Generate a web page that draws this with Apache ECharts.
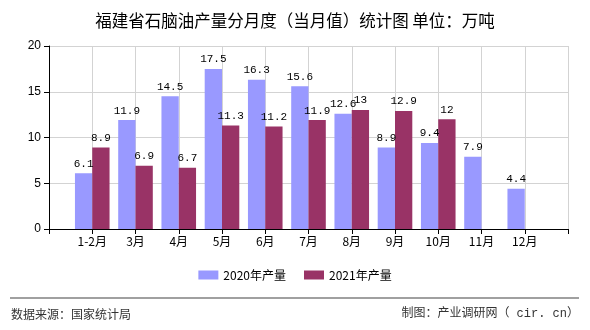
<!DOCTYPE html>
<html>
<head>
<meta charset="utf-8">
<script src="https://cdn.jsdelivr.net/npm/echarts@6/dist/echarts.min.js"></script>
<style>
html,body{margin:0;padding:0;background:#fff;}
#chart{width:590px;height:330px;}
</style>
</head>
<body>
<div id="chart"></div>
<script>
// 月份类别
const months = ['1-2月','3月','4月','5月','6月','7月','8月','9月','10月','11月','12月'];
// 2020年各月产量（万吨）
const output2020 = [6.1, 11.9, 14.5, 17.5, 16.3, 15.6, 12.6, 8.9, 9.4, 7.9, 4.4];
// 2021年各月产量（万吨）
const output2021 = [8.9, 6.9, 6.7, 11.3, 11.2, 11.9, 13, 12.9, 12, null, null];
const seriesNames = ['2020年产量', '2021年产量'];
const yTicks = [0, 5, 10, 15, 20];

// 两端各留一个空位，使柱子落在刻度线上
const axisCats = [''].concat(months, ['']);
const pad = arr => [null].concat(arr, [null]);

const labelFont = {
  show: true, position: 'top', distance: 4, color: '#000',
  fontFamily: 'Liberation Mono, monospace', fontSize: 11
};

const chart = echarts.init(document.getElementById('chart'));
chart.setOption({
  animation: false,
  title: {
    text: '福建省石脑油产量分月度（当月值）统计图 单位：万吨',
    left: 'center', top: 7,
    textStyle: { fontSize: 16.5, fontWeight: 'normal', color: '#000', fontFamily: 'Noto Sans CJK SC' }
  },
  grid: { left: 49, right: 22, top: 46, bottom: 101 },
  legend: {
    bottom: 44, left: 'center', itemWidth: 20, itemHeight: 9, itemGap: 18,
    icon: 'rect',
    textStyle: { fontSize: 12, color: '#000', fontFamily: 'Noto Sans CJK SC' },
    data: seriesNames
  },
  xAxis: {
    type: 'category', data: axisCats, boundaryGap: false,
    axisLine: { lineStyle: { color: '#000', width: 1 } },
    axisTick: { show: true, interval: 0, length: 5, lineStyle: { color: '#000' } },
    axisLabel: { interval: 0, color: '#000', fontSize: 12, margin: 6, fontFamily: 'Noto Sans CJK SC' },
    splitLine: { show: true, interval: 0, lineStyle: { color: '#d3d3d3' } }
  },
  yAxis: {
    type: 'value', min: yTicks[0], max: yTicks[yTicks.length - 1], interval: 5,
    axisLine: { show: true, lineStyle: { color: '#000', width: 1 } },
    axisTick: { show: true, length: 5, lineStyle: { color: '#000' } },
    axisLabel: { color: '#000', fontSize: 12, margin: 8, fontFamily: 'Liberation Sans' },
    splitLine: { lineStyle: { color: '#d3d3d3' } }
  },
  series: [
    {
      name: seriesNames[0], type: 'bar', data: pad(output2020),
      barGap: '0%', barCategoryGap: '20%',
      itemStyle: { color: '#9999ff' }, label: labelFont
    },
    {
      name: seriesNames[1], type: 'bar', data: pad(output2021),
      barGap: '0%', barCategoryGap: '20%',
      itemStyle: { color: '#993366' }, label: labelFont
    }
  ],
  graphic: [
    { type: 'line', shape: { x1: 10, y1: 298, x2: 579, y2: 298 }, style: { stroke: '#808080', lineWidth: 1.5 } },
    { type: 'text', left: 11, top: 308, style: { text: '数据来源：国家统计局', fontSize: 12, fill: '#333', fontFamily: 'Noto Sans CJK SC' } },
    { type: 'text', right: 11, top: 308, style: { text: '制图：产业调研网（ cir. cn）', fontSize: 12, fill: '#333', fontFamily: 'Liberation Mono, Noto Sans CJK SC' } }
  ]
});
</script>
</body>
</html>
